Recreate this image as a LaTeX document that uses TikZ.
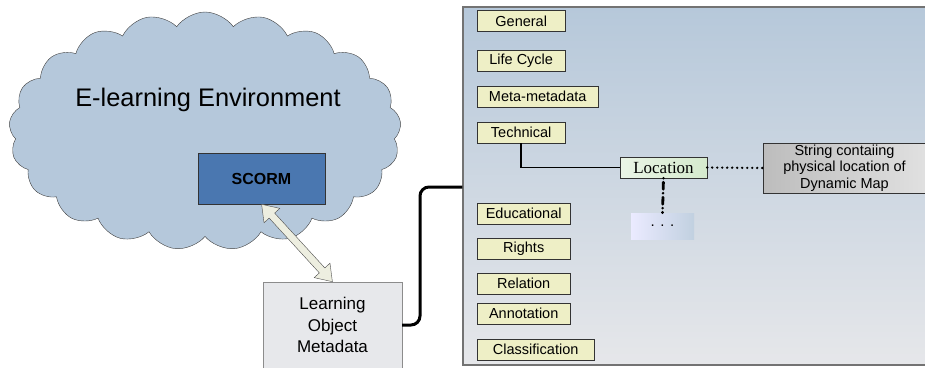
\documentclass[tikz,border=0pt]{standalone}
\usepackage{fontspec}
\setmainfont{Liberation Sans}
\newfontfamily\serifloc{Liberation Serif}
\usetikzlibrary{shapes.symbols,shapes.arrows,calc,positioning}

\definecolor{cloudblue}{HTML}{B5C8DB}
\definecolor{scormblue}{HTML}{4A77B0}
\definecolor{lomgray}{HTML}{E7E8EB}
\definecolor{paneltop}{HTML}{B6C8DA}
\definecolor{panelbottom}{HTML}{E6E7EA}
\definecolor{itemyellow}{HTML}{EEEFC6}
\definecolor{locgreen}{HTML}{D5EACD}
\definecolor{arrowcream}{HTML}{EDEEE0}

\tikzset{
    item/.style={draw=black!80, fill=itemyellow, anchor=west, inner sep=0pt,
        minimum height=21pt, font=\fontsize{14.5}{16}\selectfont},
    thickline/.style={line width=3pt, rounded corners=9pt},
    techline/.style={line width=1.6pt},
    dotline/.style={line width=2.6pt, line cap=round, dash pattern=on 0pt off 5pt},
    dashdotline/.style={line width=2.8pt, line cap=round,
        dash pattern=on 0pt off 4pt on 7pt off 4pt},
}

\begin{document}
\begin{tikzpicture}[x=1pt,y=-1pt]
    \useasboundingbox (0,0) rectangle (925,367);
    \node[cloud, cloud puffs=21, cloud puff arc=110, cloud ignores aspect,
        minimum width=392pt, minimum height=238pt, draw=black!75, fill=cloudblue] (env) at (205,131) {};
    \node[font=\fontsize{25.4}{28}\selectfont] (envlabel) at (208,100) {E-learning Environment};
    \node[draw=black!80, fill=scormblue, minimum width=127pt, minimum height=51pt,
        font=\fontsize{16}{18}\bfseries] (scorm) at (261.5,178.5) {SCORM};
    \node[draw=black!45, fill=lomgray, minimum width=139pt, minimum height=86pt, align=center,
        font=\fontsize{17}{21.7}\selectfont] (lom) at (332.5,325) {Learning\\Object\\Metadata};
    \path let \p1=(scorm.south), \p2=(lom.north),
        \n1={atan2(\y2-\y1,\x2-\x1)}, \n2={veclen(\x2-\x1,\y2-\y1)} in
        node[double arrow, draw=black!70, fill=arrowcream, inner xsep=0pt, inner ysep=3.5pt,
            minimum width=21pt, double arrow head extend=7pt, double arrow tip angle=70,
            minimum height=\n2, rotate=\n1] (link) at ($(\p1)!0.5!(\p2)$) {};

    \node[draw=black!55, line width=1.2pt, top color=paneltop, bottom color=panelbottom,
        minimum width=500pt, minimum height=358pt] (panel) at (713,186) {};
    \coordinate (bend) at (420,187);
    \draw[thickline] (lom.east) -| (bend) -- (bend -| panel.west);

    \node[item, minimum width=88pt] (general) at (477,21) {General};
    \node[item, minimum width=88pt] (lifecycle) at (477,61) {Life Cycle};
    \node[item, minimum width=121pt] (metameta) at (477,96.5) {Meta-metadata};
    \node[item, minimum width=88pt] (technical) at (477,132.5) {Technical};
    \node[item, minimum width=93pt] (educational) at (477,213.5) {Educational};
    \node[item, minimum width=93pt] (rights) at (477,248.5) {Rights};
    \node[item, minimum width=93pt] (relation) at (477,283.5) {Relation};
    \node[item, minimum width=93pt] (annotation) at (477,313.5) {Annotation};
    \node[item, minimum width=117pt] (classification) at (477,349.5) {Classification};

    \node[draw=black!80, left color=locgreen!50, right color=locgreen, inner sep=0pt,
        minimum width=87pt, minimum height=21pt, font=\serifloc\fontsize{17}{19}\selectfont] (location) at (663.5,167.5) {Location};
    \node[draw=black!80, left color=black!26, right color=black!12, inner sep=0pt, align=center,
        minimum width=163pt, minimum height=50pt, font=\fontsize{14.5}{16.7}\selectfont] (string) at (844.5,168) {String contaiing\\physical location of\\Dynamic Map};
    \node[left color=white!92!blue, right color=paneltop!85, inner sep=0pt,
        minimum width=63pt, minimum height=26pt, font=\fontsize{15}{15}\selectfont] (more) at (662.5,226) {. . .};

    \draw[techline] (technical.south) |- (location.west);
    \draw[dotline] (location.east) -- (string.west);
    \draw[dashdotline] (location.south) -- (more.north);
\end{tikzpicture}
\end{document}
